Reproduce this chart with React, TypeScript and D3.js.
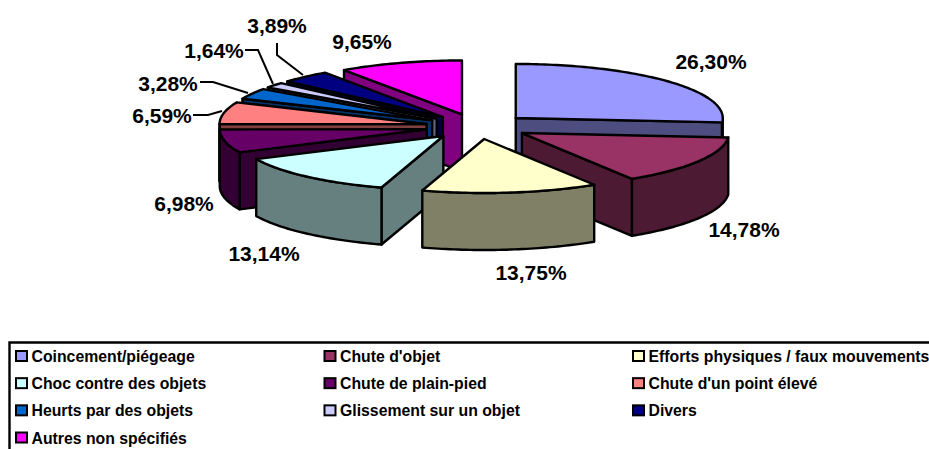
import React from "react";
import * as d3 from "d3";

const categories = [
  "Coincement/piégeage", "Chute d'objet", "Efforts physiques / faux mouvements",
  "Choc contre des objets", "Chute de plain-pied", "Chute d'un point élevé",
  "Heurts par des objets", "Glissement sur un objet", "Divers", "Autres non spécifiés",
];
const values = [26.3, 14.78, 13.75, 13.14, 6.98, 6.59, 3.28, 1.64, 3.89, 9.65];
const valueLabels = ["26,30%", "14,78%", "13,75%", "13,14%", "6,98%", "6,59%", "3,28%", "1,64%", "3,89%", "9,65%"];
const topColors = ["#9999FF", "#993366", "#FFFFCC", "#CCFFFF", "#660066", "#FF8080", "#0066CC", "#CCCCFF", "#000080", "#FF00FF"];
const sideColors = ["#4D4D80", "#4D1A33", "#808066", "#668080", "#330033", "#804040", "#003366", "#666680", "#000040", "#800080"];

// painter's order, back slices first
const drawOrder = [9, 8, 7, 6, 5, 4, 0, 1, 3, 2];

// label placement, same order as categories
const labelCenters: [number, number][] = [
  [711, 61], [744, 229], [531, 272], [264, 253], [184, 203],
  [162, 115], [168, 83], [214, 50], [277, 25], [362, 41],
];
const leaders: [number, number][][] = [
  [[193, 115], [208, 115], [222, 111]],
  [[200, 82], [213, 82], [248, 93]],
  [[245, 50], [258, 50], [273, 84]],
  [[277, 43], [277, 55], [303, 75]],
];

const width = 929, height = 449;
const cx = 477.5, cy = 126.5;
const rx = 207, ry = 54, depth = 57;
const explodeX = 52, explodeY = 12.6;

const pie = d3.pie<number>().sort(null).startAngle(0).endAngle(2 * Math.PI);
const arcs = pie(values);

const line = d3.line<[number, number]>();

// point on the rim for a clock angle, relative to the slice apex
const rim = (a: number): [number, number] => [rx * Math.sin(a), -ry * Math.cos(a)];

const arcPoints = (a0: number, a1: number, ox: number, oy: number): [number, number][] => {
  const n = Math.max(2, Math.ceil((a1 - a0) / 0.02));
  return d3.range(n + 1).map((i) => {
    const [x, y] = rim(a0 + ((a1 - a0) * i) / n);
    return [ox + x, oy + y] as [number, number];
  });
};

function Slice({ i }: { i: number }) {
  const { startAngle: a0, endAngle: a1 } = arcs[i];
  const mid = (a0 + a1) / 2;
  const ox = cx + explodeX * Math.sin(mid);
  const oy = cy - explodeY * Math.cos(mid);
  const top = arcPoints(a0, a1, ox, oy);
  const stroke = { stroke: "#000", strokeWidth: 2.4, strokeLinejoin: "round" as const };
  const faces: [number, number][][] = [];

  // radial cut faces that look towards the viewer
  if (Math.sin(a0) < -1e-6) {
    const [x, y] = top[0];
    faces.push([[ox, oy], [x, y], [x, y + depth], [ox, oy + depth]]);
  }
  if (Math.sin(a1) > 1e-6) {
    const [x, y] = top[top.length - 1];
    faces.push([[ox, oy], [x, y], [x, y + depth], [ox, oy + depth]]);
  }
  // outer wall, only the front half of the rim
  const w0 = Math.max(a0, Math.PI / 2), w1 = Math.min(a1, (3 * Math.PI) / 2);
  if (w1 > w0) {
    const upper = arcPoints(w0, w1, ox, oy);
    const lower = upper.map(([x, y]) => [x, y + depth] as [number, number]).reverse();
    faces.push([...upper, ...lower]);
  }

  return (
    <g>
      {faces.map((f, k) => (
        <path key={k} d={line(f) + "Z"} fill={sideColors[i]} {...stroke} />
      ))}
      <path d={line([[ox, oy], ...top]) + "Z"} fill={topColors[i]} {...stroke} />
    </g>
  );
}

const legendCol = d3.scalePoint<number>().domain([0, 1, 2]).range([16, 633]);
const legendRow = d3.scaleLinear().domain([0, 3]).range([356.5, 438]);

export default function App() {
  const font = "'Liberation Sans', Arial, sans-serif";
  return (
    <svg
      width={width}
      height={height}
      style={{ position: "absolute", left: 0, top: 0, background: "#fff" }}
      fontFamily={font}
      fontWeight="bold"
    >
      {drawOrder.map((i) => (
        <Slice key={i} i={i} />
      ))}

      {leaders.map((pts, i) => (
        <path key={i} d={line(pts) ?? ""} fill="none" stroke="#000" strokeWidth={2} />
      ))}

      {valueLabels.map((t, i) => (
        <text
          key={t}
          x={labelCenters[i][0]}
          y={labelCenters[i][1]}
          textAnchor="middle"
          dominantBaseline="central"
          fontSize={21}
          fill="#000"
        >
          {t}
        </text>
      ))}

      <path d={`M9.5 ${height}V342.5H${width}`} fill="none" stroke="#000" strokeWidth={2.4} />
      {categories.map((c, i) => {
        const x = legendCol(i % 3) ?? 0;
        const y = legendRow(Math.floor(i / 3));
        return (
          <g key={c}>
            <rect x={x} y={y - 5.5} width={11} height={10} fill={topColors[i]} stroke="#000" strokeWidth={2} />
            <text x={x + 15.5} y={y} dominantBaseline="central" fontSize={15.8} fill="#000">
              {c}
            </text>
          </g>
        );
      })}
    </svg>
  );
}
